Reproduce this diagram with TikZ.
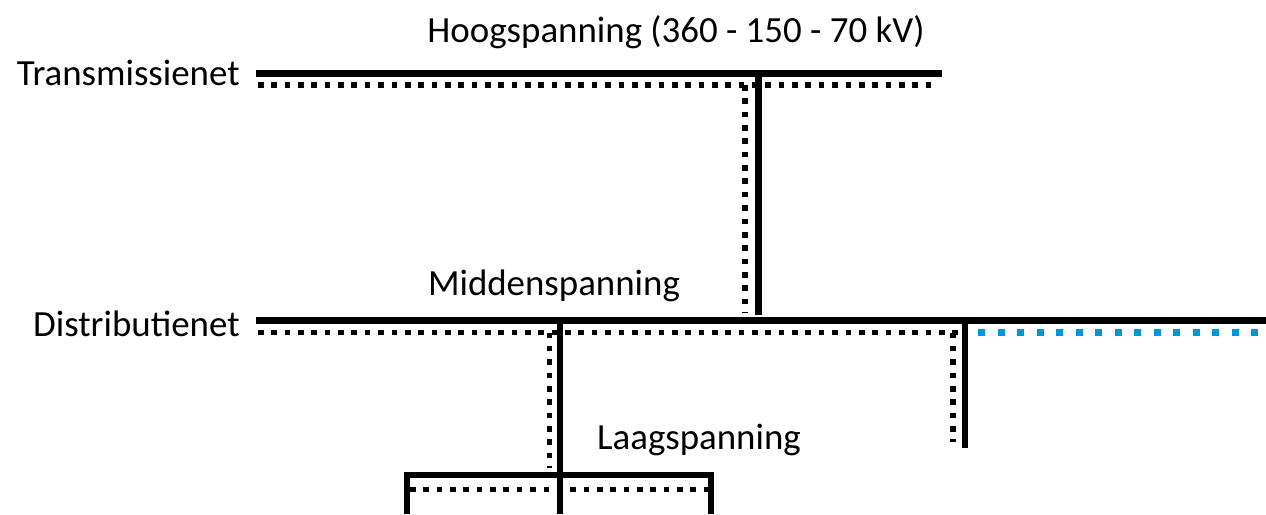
\documentclass[tikz,border=0pt]{standalone}
\usepackage{fontspec}
\setmainfont{Carlito}
\definecolor{netblauw}{RGB}{0,150,218}
\tikzset{
  kabel/.style={line width=3.7pt},
  retour/.style={line width=3.2pt,dash pattern=on 3.2pt off 4.4pt},
  retourblauw/.style={netblauw,line width=4.2pt,dash pattern=on 4.2pt off 6.9pt},
  tekst/.style={inner sep=0pt,font=\fontsize{21}{25}\selectfont},
}
\begin{document}
\begin{tikzpicture}[x=0.02cm,y=-0.02cm]
                \useasboundingbox (0,0) rectangle (1266,514);

                % teksten
                \node[tekst,anchor=base] (hoog) at (676,42) {Hoogspanning (360 - 150 - 70 kV)};
                \node[tekst,anchor=base east] (trans) at (240,85.5) {Transmissienet};
                \node[tekst,anchor=base] (midden) at (554,295.5) {Middenspanning};
                \node[tekst,anchor=base east] (distr) at (240,336) {Distributienet};
                \node[tekst,anchor=base] (laag) at (699,449) {Laagspanning};

                \coordinate (T1) at (256,73.5); %transmissienet
                \coordinate (T2) at (942,73.5);
                \coordinate (D1) at (256,320.5); %distributienet
                \coordinate (D2) at (1266,320.5);
                \coordinate (A) at (758.5,73.5); %aftak hoog-midden
                \coordinate (B) at (560,320.5); %aftak midden-laag
                \coordinate (C) at (965,320.5); %aftak rechts

                % retourlijnen (gestippeld)
                \draw[retour] (258,85) -- (938,85);
                \draw[retour] (745,85) -- (745,313);
                \draw[retour] (258,332.5) -- (958,332.5);
                \draw[retourblauw] (978,332.5) -- (1266,332.5);
                \draw[retour] (549.5,332.5) -- (549.5,468);
                \draw[retour] (953,332.5) -- (953,442);
                \draw[retour] (410,489.5) -- (708,489.5);

                % kabels
                \draw[kabel] (T1) -- (T2);
                \draw[kabel] (D1) -- (D2);
                \draw[kabel] (A) -- (758.5,315);
                \draw[kabel] (B) -- (560,514);
                \draw[kabel] (C) -- (965,448);
                \draw[kabel] (407,514) -- (407,475) -- (711,475) -- (711,514);

\end{tikzpicture}
\end{document}
